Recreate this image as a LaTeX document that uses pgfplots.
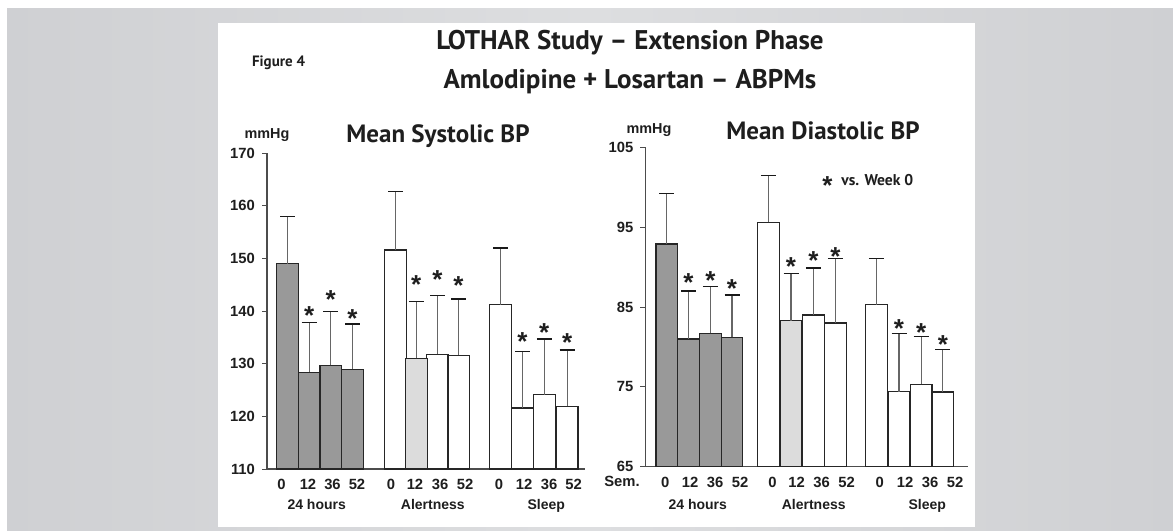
\documentclass[border=0pt]{standalone}
\usepackage{pgfplots}
\pgfplotsset{compat=1.18}
\usepackage{pgfplotstable}
\usepackage{fontspec}
\setmainfont{Liberation Sans}
\newfontfamily\headfont{PT Sans}
\definecolor{bgdark}{HTML}{CFD0D3}
\definecolor{bglight}{HTML}{DDDEE0}
\definecolor{bardark}{HTML}{999999}
\definecolor{barlight}{HTML}{DCDCDC}
\definecolor{ink}{HTML}{1E1E1E}

% x = bar centre, px from the y axis; y = mean; top = end of the error bar
\pgfplotstableread{
x y top
20.5 149.0 158.0
42.2 128.4 137.8
63.8 129.7 139.9
85.5 128.9 137.5
}\sysdark
\pgfplotstableread{
x y top
128.5 151.6 162.7
170.5 131.8 143.0
191.5 131.6 142.3
233.5 141.2 152.0
255.5 121.6 132.3
277.3 124.1 134.7
300.2 121.9 132.6
}\syswhite
\pgfplotstableread{
x y top
149.3 131.0 141.8
}\sysdot
\pgfplotstableread{
x y
42.2 140.3
63.8 143.4
85.5 139.7
149.3 146.1
170.5 147.1
191.5 146.0
255.5 135.4
277.3 137.1
300.2 135.1
}\sysstar

\pgfplotstableread{
x y top
21.4 92.9 99.2
43.2 81.0 87.0
65.0 81.7 87.6
86.7 81.2 86.5
}\diadark
\pgfplotstableread{
x y top
123.0 95.6 101.5
168.0 84.0 89.9
190.0 83.0 91.1
231.0 85.3 91.1
253.7 74.4 81.7
275.9 75.3 81.3
297.5 74.35 79.7
}\diawhite
\pgfplotstableread{
x y top
145.7 83.3 89.2
}\diadot
\pgfplotstableread{
x y
43.2 88.8
65.0 89.1
86.7 88.0
145.7 90.8
168.0 91.6
190.0 92.1
253.7 83.0
275.9 82.5
297.5 81.0
}\diastar

\pgfplotsset{
  bp/.style={
    scale only axis, xmin=0, axis lines*=left,
    axis line style={black!70, line width=0.6pt},
    x tick style={draw=none}, major tick length=2.5pt, tick align=outside,
    y tick style={black!70, line width=0.5pt},
    xticklabels={0,12,36,52,0,12,36,52,0,12,36,52},
    ticklabel style={font=\bfseries\fontsize{7.4}{8}\selectfont, text=ink},
    xticklabel style={yshift=1pt},
    /pgf/number format/assume math mode=true,
  },
  bpbar/.style={
    ybar, bar shift=0pt, bar width=21.6, draw=black!85, line width=0.6pt,
    error bars/y dir=plus, error bars/y explicit,
    error bars/error bar style={black!60, line width=0.6pt},
    error bars/error mark options={rotate=90, black!90, line width=0.7pt, mark size=3.75pt},
  },
  star/.style={
    only marks, mark=none, nodes near coords={*},
    every node near coord/.append style={anchor=center, yshift=-3pt,
      font=\bfseries\fontsize{13}{13}\selectfont, text=ink},
  },
}

\begin{document}
\begin{tikzpicture}[x=0.5pt, y=0.5pt]
  % background and white panel (y measured up from the bottom edge)
  \fill[white] (0,0) rectangle (1173,531);
  \shade[left color=bgdark, right color=bgdark, middle color=bglight] (7,1) rectangle (1173,522);
  \fill[white] (218,4) rectangle (975,508);

  % headings
  \node[text=ink, font=\headfont\bfseries\fontsize{13.5}{14}\selectfont] at (630,488) {LOTHAR Study – Extension Phase};
  \node[text=ink, font=\headfont\bfseries\fontsize{13.5}{14}\selectfont] at (630,449) {Amlodipine + Losartan – ABPMs};
  \node[text=ink, anchor=west, font=\headfont\bfseries\fontsize{7.5}{9}\selectfont] at (245,468) {Figure 4};

  % systolic
  \begin{axis}[bp, name=sys, at={(133.5pt,31pt)}, anchor=south west,
      width=159pt, height=158pt, xmax=318, ymin=110, ymax=170,
      ytick={110,120,...,170},
      xtick={14.5,41,65.5,90,124,148,173,198,232,257,282,306.5}]
    \addplot[bpbar, fill=bardark] table[x=x, y=y, y error plus expr=\thisrow{top}-\thisrow{y}] {\sysdark};
    \addplot[bpbar, fill=white] table[x=x, y=y, y error plus expr=\thisrow{top}-\thisrow{y}] {\syswhite};
    \addplot[bpbar, fill=barlight] table[x=x, y=y, y error plus expr=\thisrow{top}-\thisrow{y}] {\sysdot};
    \addplot[star] table[x=x, y=y] {\sysstar};
  \end{axis}

  % diastolic
  \begin{axis}[bp, name=dia, at={(322.65pt,32.15pt)}, anchor=south west,
      width=161.35pt, height=159.7pt, xmax=322.7, ymin=65, ymax=105,
      ytick={65,75,85,95,105},
      xtick={20,44.7,69.7,94.7,127.2,151.4,176.4,201.4,234.4,259.7,284.7,309.7}]
    \addplot[bpbar, fill=bardark] table[x=x, y=y, y error plus expr=\thisrow{top}-\thisrow{y}] {\diadark};
    \addplot[bpbar, fill=white] table[x=x, y=y, y error plus expr=\thisrow{top}-\thisrow{y}] {\diawhite};
    \addplot[bpbar, fill=barlight] table[x=x, y=y, y error plus expr=\thisrow{top}-\thisrow{y}] {\diadot};
    \addplot[star] table[x=x, y=y] {\diastar};
    \node[anchor=west, text=ink, font=\bfseries\fontsize{13}{13}\selectfont, yshift=-3pt] at (axis cs:170,100.9) {*};
    \node[anchor=west, text=ink, font=\headfont\bfseries\fontsize{7.8}{9}\selectfont] at (axis cs:189,100.9) {vs. Week 0};
  \end{axis}

  % panel titles and units
  \node[text=ink, font=\headfont\bfseries\fontsize{12.5}{13}\selectfont] at (438,395) {Mean Systolic BP};
  \node[text=ink, font=\headfont\bfseries\fontsize{12.5}{13}\selectfont] at (823,400) {Mean Diastolic BP};
  \node[text=ink, font=\bfseries\fontsize{7.2}{8}\selectfont] at (267,396) {mmHg};
  \node[text=ink, font=\bfseries\fontsize{7.2}{8}\selectfont] at (649,401) {mmHg};
  \node[text=ink, font=\bfseries\fontsize{7.4}{8}\selectfont] at (622,50) {Sem.};

  % group names
  \foreach \gx/\gname in {316.7/24 hours, 432.8/Alertness, 546.3/Sleep,
                          697.8/24 hours, 813.7/Alertness, 927.2/Sleep}
    \node[anchor=base, text=ink, font=\bfseries\fontsize{7}{8}\selectfont] at (\gx,22) {\gname};

  \pgfresetboundingbox
  \path (0,0) rectangle (1173,531);
\end{tikzpicture}
\end{document}
